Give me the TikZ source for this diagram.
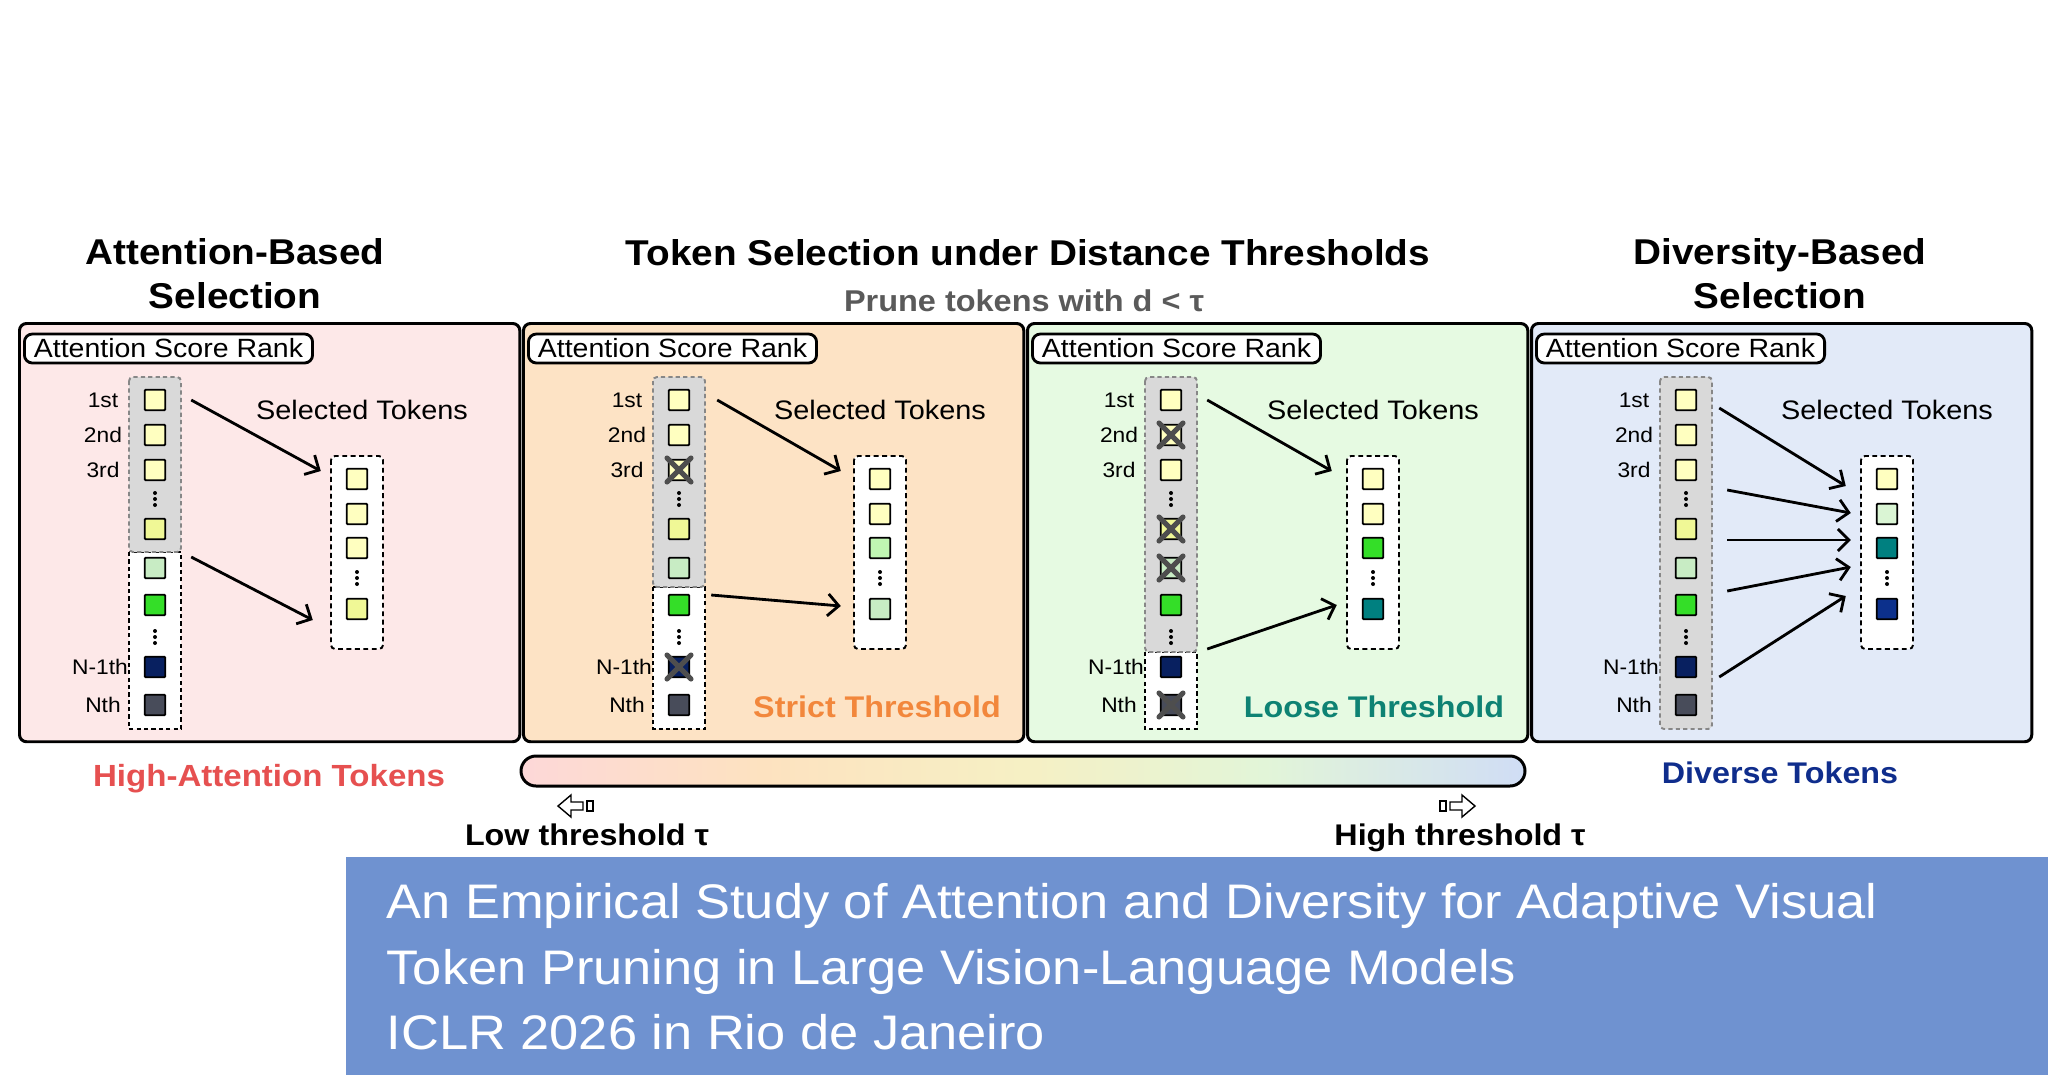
\documentclass[tikz,border=0pt]{standalone}
\usepackage{fontspec}
\setmainfont{Liberation Sans}[FakeStretch=1.08]
\usetikzlibrary{arrows.meta}

\definecolor{tokA}{RGB}{255,255,192}
\definecolor{tokB}{RGB}{240,248,150}
\definecolor{tokC}{RGB}{200,236,196}
\definecolor{tokD}{RGB}{52,222,40}
\definecolor{tokE}{RGB}{8,32,96}
\definecolor{tokF}{RGB}{72,76,90}
\definecolor{tokG}{RGB}{0,128,128}
\definecolor{tokH}{RGB}{192,246,178}
\definecolor{tokI}{RGB}{218,245,212}
\definecolor{tokJ}{RGB}{12,48,140}
\definecolor{bgAttn}{RGB}{253,232,232}
\definecolor{bgStrict}{RGB}{253,227,197}
\definecolor{bgLoose}{RGB}{230,250,226}
\definecolor{bgDiv}{RGB}{226,234,248}
\definecolor{boxgray}{RGB}{217,217,217}
\definecolor{dashgray}{RGB}{135,135,135}
\definecolor{crossgray}{RGB}{78,78,78}
\definecolor{prunegray}{RGB}{90,90,90}
\definecolor{attnred}{RGB}{230,80,80}
\definecolor{strictorange}{RGB}{242,135,60}
\definecolor{looseteal}{RGB}{14,130,115}
\definecolor{divnavy}{RGB}{15,45,140}
\definecolor{bannerblue}{RGB}{111,146,208}
\definecolor{rampA}{RGB}{253,216,216}
\definecolor{rampB}{RGB}{253,226,192}
\definecolor{rampC}{RGB}{246,240,196}
\definecolor{rampD}{RGB}{226,245,216}
\definecolor{rampE}{RGB}{208,221,245}
\pgfdeclarehorizontalshading{tauramp}{100bp}{color(0bp)=(rampA); color(25bp)=(rampA);
  color(37bp)=(rampB); color(50bp)=(rampC); color(62bp)=(rampD); color(75bp)=(rampE); color(100bp)=(rampE)}

\tikzset{
  panelbox/.style={draw=black, line width=0.85pt, rounded corners=0.07cm, inner sep=0,
    minimum width=5cm, minimum height=4.18cm},
  rankbox/.style={draw=black, fill=white, line width=0.8pt, rounded corners=0.08cm,
    inner xsep=0.07cm, inner ysep=0.03cm, minimum width=2.88cm, minimum height=0.29cm,
    font=\fontsize{7.5}{8}\selectfont},
  tok/.style={draw=black, line width=0.55pt, minimum size=0.205cm, inner sep=0, rounded corners=0.3pt},
  topbox/.style={draw=dashgray, fill=boxgray, line width=0.55pt, dash pattern=on 1.2pt off 0.9pt,
    rounded corners=0.04cm},
  lowbox/.style={draw=black, fill=white, line width=0.55pt, dash pattern=on 1.2pt off 0.9pt},
  selbox/.style={draw=black, fill=white, line width=0.55pt, dash pattern=on 1.4pt off 1pt,
    rounded corners=0.04cm},
  cross/.style={draw=crossgray, line width=1.45pt, line cap=round},
  pick/.style={draw=black, line width=0.8pt, -{Straight Barb[length=0.11cm, width=0.22cm]}},
  rank/.style={font=\fontsize{6}{7}\selectfont, inner sep=0, anchor=base},
  selhead/.style={font=\fontsize{7.6}{8}\selectfont, inner sep=0, anchor=base},
  title/.style={font=\bfseries\fontsize{10.2}{12.5}\selectfont, inner sep=0, align=center},
  verdict/.style={font=\bfseries\fontsize{8.5}{10}\selectfont, inner sep=0, anchor=base},
  hollow/.style={draw=black, line width=0.4pt, fill=white},
  bannertext/.style={font=\fontsize{13.8}{18}\selectfont, text=white, inner sep=0, anchor=base west}
}

\newcommand\Tok[3]{\node[tok,fill=#3] (#1) at #2 {};}
\newcommand\Cross[1]{%
    \draw[cross] ([shift={(-12,-12)}]#1.center) -- ([shift={(12,12)}]#1.center)
        ([shift={(-12,12)}]#1.center) -- ([shift={(12,-12)}]#1.center);
}
\newcommand\VDots[2]{\foreach \dy in {-1,0,1} {\fill (#1,{#2+6*\dy}) circle[radius=0.02cm];}}
\newcommand\Panel[3]{%
    \node[panelbox,fill=#3,anchor=north west] (#1) at (#2,322) {};
    \node[rankbox,anchor=west] (#1rank) at (#2+5,348.5) {Attention Score Rank};
}
\newcommand\RankCol[3]{%
    \ifnum#3<729 \draw[lowbox] (#2-26,#3) rectangle (#2+26,729);\fi
    \draw[topbox] (#2-26,377) rectangle (#2+26,#3);
    \Tok{#1r1}{(#2,400)}{tokA}
    \Tok{#1r2}{(#2,435)}{tokA}
    \Tok{#1r3}{(#2,470)}{tokA}
    \VDots{#2}{499}
    \Tok{#1r4}{(#2,529)}{tokB}
    \Tok{#1r5}{(#2,568)}{tokC}
    \Tok{#1r6}{(#2,605)}{tokD}
    \VDots{#2}{637}
    \Tok{#1r7}{(#2,667)}{tokE}
    \Tok{#1r8}{(#2,705)}{tokF}
    \node[rank] (#1n1) at (#2-52,407) {1st};
    \node[rank] (#1n2) at (#2-52,442) {2nd};
    \node[rank] (#1n3) at (#2-52,477) {3rd};
    \node[rank] (#1n7) at (#2-55,674) {N-1th};
    \node[rank] (#1n8) at (#2-52,712) {Nth};
}
\newcommand\SelCol[6]{%
    \draw[selbox] (#2-26,456) rectangle (#2+26,649);
    \Tok{#1s1}{(#2,479)}{#3}
    \Tok{#1s2}{(#2,514)}{#4}
    \Tok{#1s3}{(#2,548)}{#5}
    \VDots{#2}{578}
    \Tok{#1s4}{(#2,609)}{#6}
}

\begin{document}
\begin{tikzpicture}[x=0.01cm,y=-0.01cm]
    \useasboundingbox (0,0) rectangle (2048,1075);
    \fill[white] (0,0) rectangle (2048,1075);

    \node[title] (attnTitle) at (235,274) {Attention-Based\\Selection};
    \node[title,anchor=base] (distTitle) at (1028,265) {Token Selection under Distance Thresholds};
    \node[font=\bfseries\fontsize{8.55}{10}\selectfont, text=prunegray, inner sep=0, anchor=base]
        (pruneRule) at (1024,311) {Prune tokens with d < τ};
    \node[title] (divTitle) at (1780,274) {Diversity-Based\\Selection};

    \Panel{attn}{18}{bgAttn}
    \RankCol{a}{155}{552}
    \SelCol{a}{357}{tokA}{tokA}{tokA}{tokB}
    \node[selhead] (ahead) at (362,419) {Selected Tokens};
    \draw[pick] ([shift={(25,0)}]ar1.east) -- ([shift={(-25,-8)}]as1.west);
    \draw[pick] ([shift={(25,-11)}]ar5.east) -- ([shift={(-33,11)}]as4.west);

    \Panel{strict}{522}{bgStrict}
    \RankCol{s}{679}{587}
    \SelCol{s}{880}{tokA}{tokA}{tokH}{tokC}
    \node[selhead] (shead) at (880,419) {Selected Tokens};
    \Cross{sr3}
    \Cross{sr7}
    \draw[pick] ([shift={(27,0)}]sr1.east) -- ([shift={(-28,-8)}]ss1.west);
    \draw[pick] ([shift={(21,-10)}]sr6.east) -- ([shift={(-28,-3)}]ss4.west);
    \node[verdict, text=strictorange] (strictLabel) at (877,717.5) {Strict Threshold};

    \Panel{loose}{1026}{bgLoose}
    \RankCol{l}{1171}{652}
    \SelCol{l}{1373}{tokA}{tokA}{tokD}{tokG}
    \node[selhead] (lhead) at (1373,419) {Selected Tokens};
    \Cross{lr2}
    \Cross{lr4}
    \Cross{lr5}
    \Cross{lr8}
    \draw[pick] ([shift={(25,0)}]lr1.east) -- ([shift={(-30,-8)}]ls1.west);
    \draw[pick] ([shift={(25,-18)}]lr7.east) -- ([shift={(-25,-4)}]ls4.west);
    \node[verdict, text=looseteal] (looseLabel) at (1374,717.5) {Loose Threshold};

    \Panel{div}{1530}{bgDiv}
    \RankCol{d}{1686}{729}
    \SelCol{d}{1887}{tokA}{tokI}{tokG}{tokJ}
    \node[selhead] (dhead) at (1887,419) {Selected Tokens};
    \draw[pick] ([shift={(22,8)}]dr1.east) -- ([shift={(-30,7)}]ds1.west);
    \draw[pick] ([shift={(30,20)}]dr3.east) -- ([shift={(-25,-1)}]ds2.west);
    \draw[pick] ([shift={(30,11)}]dr4.east) -- ([shift={(-25,-8)}]ds3.west);
    \draw[pick] ([shift={(30,23)}]dr5.east) -- ([shift={(-25,19)}]ds3.west);
    \draw[pick] ([shift={(22,10)}]dr7.east) -- ([shift={(-30,-13)}]ds4.west);

    \node[verdict, text=attnred, font=\bfseries\fontsize{8.7}{10}\selectfont] (attnOut) at (269,786) {High-Attention Tokens};
    \node[verdict, text=divnavy] (divOut) at (1780,783) {Diverse Tokens};

    \shadedraw[shading=tauramp, line width=0.85pt, rounded corners=0.15cm] (521,756) rectangle (1525,786);
    \draw[hollow] (558,806) -- (571,795) -- (571,802) -- (583,802) -- (583,810) -- (571,810) -- (571,817) -- cycle;
    \draw[hollow] (587,801) rectangle (593,811);
    \draw[hollow] (1475,806) -- (1462,795) -- (1462,802) -- (1450,802) -- (1450,810) -- (1462,810) -- (1462,817) -- cycle;
    \draw[hollow] (1440,801) rectangle (1446,811);
    \node[verdict] (lowTau) at (587,845) {Low threshold τ};
    \node[verdict] (highTau) at (1460,845) {High threshold τ};

    \fill[bannerblue] (346,857) rectangle (2048,1075);
    \node[bannertext] (ban1) at (386,918) {An Empirical Study of Attention and Diversity for Adaptive Visual};
    \node[bannertext] (ban2) at (386,984) {Token Pruning in Large Vision-Language Models};
    \node[bannertext] (ban3) at (386,1049) {ICLR 2026 in Rio de Janeiro};
\end{tikzpicture}
\end{document}
